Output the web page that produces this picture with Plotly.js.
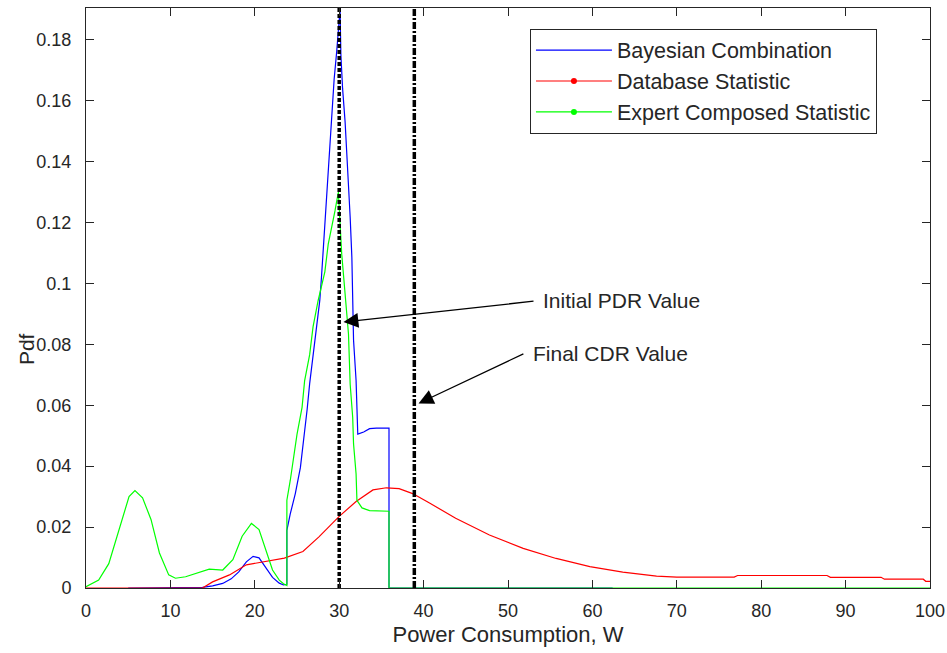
<!DOCTYPE html>
<html>
<head>
<meta charset="utf-8">
<script src="https://cdn.plot.ly/plotly-3.0.1.min.js"></script>
<style>html,body{margin:0;padding:0;background:#fff}#chart{width:947px;height:653px}</style>
</head>
<body>
<div id="chart"></div>
<script>
// ---- data ----
const seriesNames = ["Bayesian Combination", "Database Statistic", "Expert Composed Statistic"];

const bayesX = [5.0, 13.8, 15.0, 16.2, 17.2, 18.1, 19.0, 19.8, 20.5, 21.3, 22.1, 22.9, 23.4, 23.8,
  23.8, 24.2, 24.8, 25.4, 25.8, 26.2, 26.5, 26.9, 27.3, 27.7, 27.9, 28.2, 28.5, 28.8, 29.0, 29.2, 29.4, 29.7, 29.9, 30.1,
  30.2, 30.4, 30.7, 30.9, 31.1, 31.3, 31.5, 31.6, 31.7, 32.0, 32.1, 32.2, 32.9, 33.6, 34.4, 35.9, 35.9, 62.4];
const bayesY = [0, 0.0002, 0.0007, 0.0015, 0.003, 0.0053, 0.0086, 0.0104, 0.0099, 0.0069, 0.0035, 0.0016, 0.0010, 0.0012,
  0.0189, 0.0243, 0.0310, 0.0395, 0.0485, 0.0586, 0.0671, 0.0758, 0.0859, 0.0944, 0.102, 0.115, 0.129, 0.140, 0.149, 0.158, 0.167, 0.176, 0.183, 0.190,
  0.175, 0.164, 0.153, 0.143, 0.1337, 0.1217, 0.1086, 0.0955, 0.0813, 0.0681, 0.0535, 0.0505, 0.0512, 0.0523, 0.0525, 0.0525, 0, 0];

const dbX = [0, 13.8, 15.0, 17.0, 19.0, 21.3, 23.5, 25.7, 27.6, 30.0, 32.0, 34.0, 35.6, 37.1, 38.7, 40.7, 43.8, 47.8,
  51.8, 55.7, 59.7, 63.6, 67.6, 70.0, 76.8, 77.2, 87.8, 88.2, 94.2, 94.6, 99.2, 99.5, 100];
const dbY = [0, 0, 0.002, 0.0043, 0.0076, 0.0087, 0.0098, 0.012, 0.0168, 0.0235, 0.0284, 0.0322, 0.0329, 0.0326, 0.031, 0.0279, 0.0229, 0.0174,
  0.013, 0.0097, 0.007, 0.0052, 0.0039, 0.0036, 0.0036, 0.0041, 0.0041, 0.0035, 0.0035, 0.0029, 0.0029, 0.0022, 0.0022];

const expertX = [0, 1.5, 2.7, 3.9, 5.1, 5.8, 6.7, 7.7, 8.7, 9.8, 10.6, 11.8, 13.4, 14.6, 16.2, 17.4, 18.5, 19.6, 20.5, 21.3, 22.1, 22.9, 23.4, 23.8,
  23.8, 24.2, 24.6, 25.0, 25.6, 25.9, 26.5, 26.9, 27.5, 28.3, 28.7, 29.1, 29.5, 29.9, 30.1, 30.3, 30.6, 31.1, 31.3, 31.6, 31.7, 32.0, 32.1, 32.7, 33.6, 35.9, 35.9, 100];
const expertY = [0.0004, 0.0026, 0.008, 0.019, 0.030, 0.032, 0.0296, 0.0225, 0.0115, 0.0043, 0.0032, 0.0037, 0.005, 0.0062, 0.0059, 0.0093, 0.017, 0.0212, 0.0192, 0.0126, 0.0059, 0.0026, 0.0014, 0.0008,
  0.0288, 0.0353, 0.0428, 0.0504, 0.0593, 0.068, 0.0766, 0.0857, 0.0943, 0.1038, 0.1129, 0.118, 0.1238, 0.130, 0.119, 0.1096, 0.0998, 0.0834, 0.0669, 0.056, 0.0473, 0.0374, 0.0288, 0.0263, 0.0254, 0.0252, 0, 0];

const pdrValue = 30.0;   // Initial PDR value (W)
const cdrValue = 38.9;   // Final CDR value (W)
const yMax = 0.1904;

const xTicks = [0, 10, 20, 30, 40, 50, 60, 70, 80, 90, 100];
const yTicks = [0, 0.02, 0.04, 0.06, 0.08, 0.1, 0.12, 0.14, 0.16, 0.18];
const yTickText = ["0", "0.02", "0.04", "0.06", "0.08", "0.1", "0.12", "0.14", "0.16", "0.18"];

// ---- drawing ----
const FONT = "Liberation Sans, Arial, Helvetica, sans-serif";
const TXT = "#262626";
const colors = ["#0000ff", "#ff0000", "#00ff00"];

const traces = [
  {x: bayesX, y: bayesY, mode: "lines", line: {color: colors[0], width: 1.2}, showlegend: false, hoverinfo: "skip"},
  {x: dbX, y: dbY, mode: "lines", line: {color: colors[1], width: 1.2}, showlegend: false, hoverinfo: "skip"},
  {x: expertX, y: expertY, mode: "lines", line: {color: colors[2], width: 1.2}, showlegend: false, hoverinfo: "skip"},
  {x: [pdrValue, pdrValue], y: [0, yMax], mode: "lines", line: {color: "#000", width: 3.5, dash: "4px,2px"}, showlegend: false, hoverinfo: "skip"},
  {x: [cdrValue, cdrValue], y: [0, yMax], mode: "lines", line: {color: "#000", width: 3.5, dash: "7px,2px,2px,2px"}, showlegend: false, hoverinfo: "skip"},
  // legend entries
  {x: [null], y: [null], name: seriesNames[0], mode: "lines", line: {color: colors[0], width: 1.2}},
  {x: [null], y: [null], name: seriesNames[1], mode: "lines+markers", line: {color: colors[1], width: 1.2}, marker: {color: colors[1], size: 6}},
  {x: [null], y: [null], name: seriesNames[2], mode: "lines+markers", line: {color: colors[2], width: 1.2}, marker: {color: colors[2], size: 6}}
];

const axisCommon = {
  showgrid: false, zeroline: false, showline: true, linecolor: TXT, linewidth: 1,
  mirror: "ticks", ticks: "inside", ticklen: 8, tickcolor: TXT, tickwidth: 1,
  tickfont: {family: FONT, size: 18, color: TXT}
};

const layout = {
  width: 947, height: 653,
  margin: {l: 86, r: 17, t: 8, b: 65, pad: 0},
  paper_bgcolor: "#fff", plot_bgcolor: "#fff",
  font: {family: FONT, color: TXT},
  xaxis: Object.assign({}, axisCommon, {
    range: [0, 100], tickvals: xTicks, ticktext: xTicks.map(String), ticklabelstandoff: 6,
    title: {text: "Power Consumption, W", font: {family: FONT, size: 22, color: TXT}, standoff: 7}
  }),
  yaxis: Object.assign({}, axisCommon, {
    range: [0, yMax], tickvals: yTicks, ticktext: yTickText, ticklabelstandoff: 10,
    title: {text: ""}
  }),
  legend: {
    x: 0.526, y: 0.9645, xanchor: "left", yanchor: "top",
    bgcolor: "#fff", bordercolor: TXT, borderwidth: 1,
    font: {family: FONT, size: 21.5, color: TXT}, itemwidth: 76, tracegroupgap: 0
  },
  annotations: [
    {text: "Pdf", xref: "paper", yref: "paper", x: -0.071, y: 0.412, textangle: -90, showarrow: false,
     font: {family: FONT, size: 21, color: TXT}, xanchor: "center", yanchor: "middle"},
    {text: "Initial PDR Value", xref: "x", yref: "y", x: 53.9, y: 0.0944, xanchor: "left", yanchor: "middle",
     showarrow: false, font: {family: FONT, size: 21, color: TXT}},
    {text: "", xref: "x", yref: "y", x: 30.5, y: 0.0873, axref: "x", ayref: "y", ax: 53.2, ay: 0.0942,
     showarrow: true, arrowhead: 2, arrowsize: 2.3, arrowwidth: 1.3, arrowcolor: "#000"},
    {text: "Final CDR Value", xref: "x", yref: "y", x: 52.7, y: 0.077, xanchor: "left", yanchor: "middle",
     showarrow: false, font: {family: FONT, size: 21, color: TXT}},
    {text: "", xref: "x", yref: "y", x: 39.4, y: 0.0606, axref: "x", ayref: "y", ax: 52.0, ay: 0.0771,
     showarrow: true, arrowhead: 2, arrowsize: 2.3, arrowwidth: 1.3, arrowcolor: "#000"}
  ]
};

Plotly.newPlot("chart", traces, layout, {staticPlot: true, displayModeBar: false});
</script>
</body>
</html>
